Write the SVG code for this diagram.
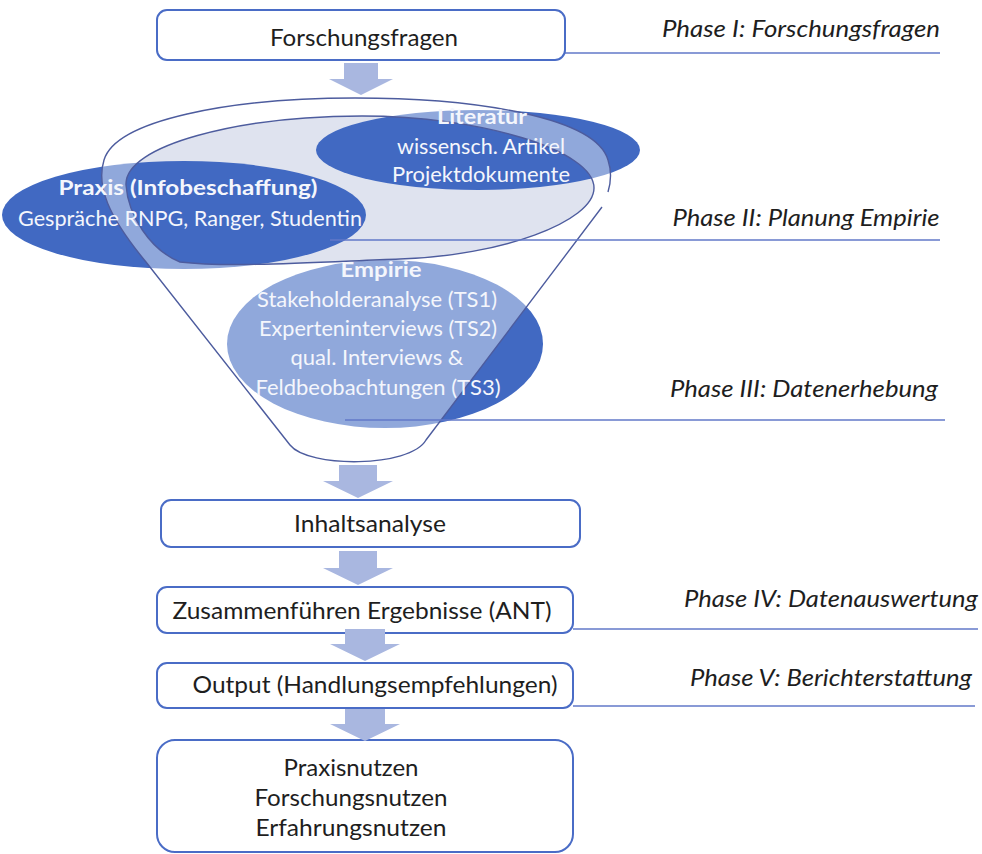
<svg xmlns="http://www.w3.org/2000/svg" width="982" height="854" viewBox="0 0 982 854">
<defs>
<style>
.box{fill:#ffffff;stroke:#4a6cc6;stroke-width:2}
.arr{fill:#a9b7e0}
.pl{stroke:#6278c8;stroke-width:1.6;fill:none}
.t{font-family:Lato,"Liberation Sans",sans-serif;font-size:24px;fill:#1e1e1e;text-anchor:middle}
.ph{font-family:Lato,"Liberation Sans",sans-serif;font-size:24px;font-style:italic;fill:#1e1e1e;text-anchor:middle}
.w{font-family:Lato,"Liberation Sans",sans-serif;font-size:21px;fill:#f4f6fc;text-anchor:middle}
.wb{font-weight:bold}
.fo{fill:none;stroke:#4d5c9e;stroke-width:1.4}
.dk{fill:#4169c2}
</style>
</defs>
<rect width="982" height="854" fill="#ffffff"/>

<g id="funnel">
  <ellipse id="empirie-shape" class="dk" cx="385" cy="344" rx="158" ry="84"/>
  <path id="opening" fill="#dfe3ef" d="M362,116 C480,116 594,150 594,188 C594,222 500,256 400,259 C320,262 230,268 180,262 C150,250 128,215 126,185 C124,145 240,116 362,116 Z"/>
  <ellipse id="praxis-shape" class="dk" cx="184" cy="215" rx="182" ry="54"/>
  <ellipse id="literatur-shape" class="dk" cx="478" cy="150" rx="162" ry="40"/>
  <path id="funnel-wall" fill="#ffffff" fill-opacity="0.42" fill-rule="evenodd" d="M146,262 C108,216 96,186 104,160 C116,120 230,98 355,98 C480,98 596,118 608,160 C612,172 611,182 608,192 L602,207 L426,440 C410,468 308,468 290,445 Z M362,116 C480,116 594,150 594,188 C594,222 500,256 400,259 C320,262 230,268 180,262 C150,250 128,215 126,185 C124,145 240,116 362,116 Z"/>
  <path class="fo" d="M608,192 C611,182 612,172 608,160 C596,118 480,98 355,98 C230,98 116,120 104,160 C96,186 108,216 146,262 L290,445 C308,468 410,468 426,440 L602,207"/>
  <path class="fo" stroke-width="1.1" d="M362,116 C480,116 594,150 594,188 C594,222 500,256 400,259 C320,262 230,268 180,262 C150,250 128,215 126,185 C124,145 240,116 362,116 Z"/>
</g>

<g id="connectors">
  <path class="arr" d="M344,63 H378 V79 H393 L361,95 L329,79 H344 Z"/>
  <path class="arr" d="M339,465 H377 V481 H393 L358,498 L323,481 H339 Z"/>
  <path class="arr" d="M339,551 H377 V568 H393 L358,585 L323,568 H339 Z"/>
</g>

<g id="lines">
  <line class="pl" x1="565" y1="53" x2="940" y2="53"/>
  <line class="pl" x1="330" y1="240" x2="940" y2="240"/>
  <line class="pl" x1="345" y1="420" x2="945" y2="420"/>
  <line class="pl" x1="573" y1="629" x2="978" y2="629"/>
  <line class="pl" x1="573" y1="706" x2="975" y2="706"/>
</g>

<g id="node-forschungsfragen">
  <rect class="box" x="157" y="10" width="408" height="50" rx="10"/>
  <text class="t" x="364" y="46" textLength="188" lengthAdjust="spacingAndGlyphs">Forschungsfragen</text>
</g>

<g id="node-literatur">
  <text class="w wb" x="482" y="124" textLength="90" lengthAdjust="spacingAndGlyphs">Literatur</text>
  <text class="w" x="481" y="154" textLength="168" lengthAdjust="spacingAndGlyphs">wissensch. Artikel</text>
  <text class="w" x="481" y="182" textLength="178" lengthAdjust="spacingAndGlyphs">Projektdokumente</text>
</g>

<g id="node-praxis">
  <text class="w wb" x="188" y="195" textLength="259" lengthAdjust="spacingAndGlyphs">Praxis (Infobeschaffung)</text>
  <text class="w" x="190" y="226" textLength="344" lengthAdjust="spacingAndGlyphs">Gespräche RNPG, Ranger, Studentin</text>
</g>

<g id="node-empirie">
  <text class="w wb" x="381" y="277" textLength="81" lengthAdjust="spacingAndGlyphs" fill="#eef1fa">Empirie</text>
  <text class="w" x="377" y="307" textLength="240" lengthAdjust="spacingAndGlyphs" fill="#eef1fa">Stakeholderanalyse (TS1)</text>
  <text class="w" x="378" y="336" textLength="238" lengthAdjust="spacingAndGlyphs" fill="#eef1fa">Experteninterviews (TS2)</text>
  <text class="w" x="377" y="365" textLength="173" lengthAdjust="spacingAndGlyphs" fill="#eef1fa">qual. Interviews &amp;</text>
  <text class="w" x="378" y="395" textLength="245" lengthAdjust="spacingAndGlyphs" fill="#eef1fa">Feldbeobachtungen (TS3)</text>
</g>

<g id="node-inhaltsanalyse">
  <rect class="box" x="161" y="500" width="419" height="47" rx="10"/>
  <text class="t" x="370" y="532" textLength="152" lengthAdjust="spacingAndGlyphs">Inhaltsanalyse</text>
</g>

<g id="node-zusammenfuehren">
  <rect class="box" x="157" y="587" width="416" height="46" rx="10"/>
  <text class="t" x="362" y="619" textLength="379" lengthAdjust="spacingAndGlyphs">Zusammenführen Ergebnisse (ANT)</text>
</g>

<g id="node-output">
  <rect class="box" x="157" y="663" width="416" height="45" rx="10"/>
  <text class="t" x="375" y="693" textLength="365" lengthAdjust="spacingAndGlyphs">Output (Handlungsempfehlungen)</text>
</g>

<g id="node-nutzen">
  <rect class="box" x="157" y="740" width="416" height="112" rx="18"/>
  <text class="t" x="351" y="776" textLength="135" lengthAdjust="spacingAndGlyphs">Praxisnutzen</text>
  <text class="t" x="351" y="806" textLength="193" lengthAdjust="spacingAndGlyphs">Forschungsnutzen</text>
  <text class="t" x="351" y="836" textLength="191" lengthAdjust="spacingAndGlyphs">Erfahrungsnutzen</text>
</g>

<g id="connectors-lower">
  <path class="arr" d="M345,629 H385 V644 H400 L365,661 L330,644 H345 Z"/>
  <path class="arr" d="M345,709 H385 V724 H400 L365,741 L330,724 H345 Z"/>
</g>

<g id="phase-labels">
  <text class="ph" x="801" y="37" textLength="278" lengthAdjust="spacingAndGlyphs">Phase I: Forschungsfragen</text>
  <text class="ph" x="806" y="226" textLength="267" lengthAdjust="spacingAndGlyphs">Phase II: Planung Empirie</text>
  <text class="ph" x="804" y="397" textLength="268" lengthAdjust="spacingAndGlyphs">Phase III: Datenerhebung</text>
  <text class="ph" x="831" y="607" textLength="294" lengthAdjust="spacingAndGlyphs">Phase IV: Datenauswertung</text>
  <text class="ph" x="831" y="686" textLength="282" lengthAdjust="spacingAndGlyphs">Phase V: Berichterstattung</text>
</g>
</svg>
